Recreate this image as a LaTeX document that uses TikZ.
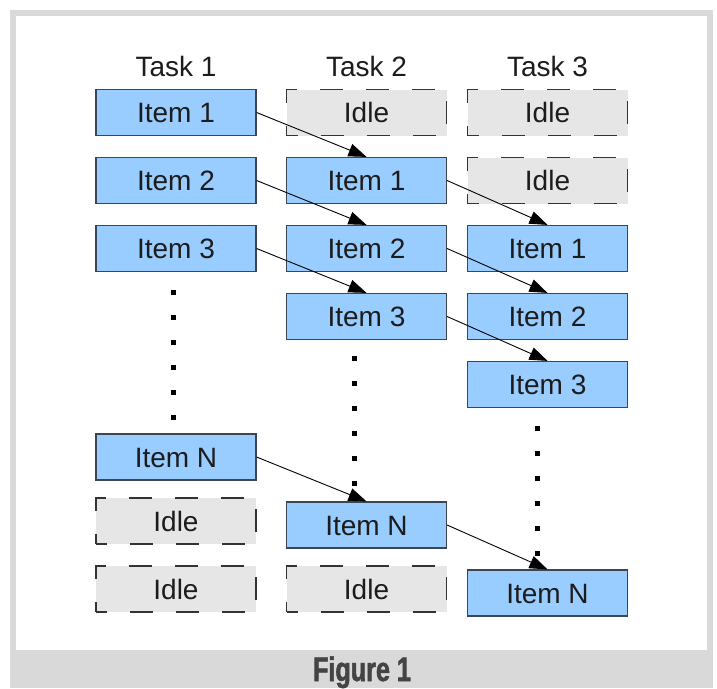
\documentclass[tikz,border=0pt]{standalone}
\usepackage{fontspec}
\setmainfont{Liberation Sans}
\newfontfamily\capfont[FakeStretch=0.74,FakeBold=1.6]{Liberation Sans Bold}
\usetikzlibrary{arrows.meta}

\definecolor{framegray}{HTML}{D9D9D9}
\definecolor{itemblue}{HTML}{99CCFF}
\definecolor{itemedge}{HTML}{3B4654}
\definecolor{idlefill}{HTML}{E6E6E6}
\definecolor{idleedge}{HTML}{333333}
\definecolor{inktext}{HTML}{1C1C1C}
\definecolor{captext}{HTML}{444444}

\tikzset{
  itembox/.style={draw=itemedge, fill=itemblue, line width=1.2pt,
    minimum width=160pt, minimum height=46pt, inner sep=0pt,
    text=inktext, font=\fontsize{28}{31}\selectfont,
    text height=20pt, text depth=0pt},
  idlebox/.style={itembox, draw=idleedge, fill=idlefill,
    dash pattern=on 23pt off 23pt, dash phase=12pt},
  tasklabel/.style={text=inktext, font=\fontsize{28}{31}\selectfont,
    inner sep=0pt, anchor=base},
  flow/.style={draw=black, line width=0.9pt,
    -{Triangle[length=18pt,width=13pt]}},
  dotmark/.style={fill=black},
}

\begin{document}
\begin{tikzpicture}[x=1pt,y=-1pt]
  \useasboundingbox (0,0) rectangle (717,688);

  % frame and caption band
  \fill[framegray] (10,10) rectangle (713,688);
  \fill[white] (16,16) rectangle (707,650);

  % column headings
  \node[tasklabel] (t1) at (176,76)   {Task 1};
  \node[tasklabel] (t2) at (366.5,76) {Task 2};
  \node[tasklabel] (t3) at (547.5,76) {Task 3};

  % task 1
  \node[itembox] (a1)  at (176,112.5) {Item 1};
  \node[itembox] (a2)  at (176,180.5) {Item 2};
  \node[itembox] (a3)  at (176,248.5) {Item 3};
  \node[itembox] (aN)  at (176,457)   {Item N};
  \node[idlebox] (aI1) at (176,521)   {Idle};
  \node[idlebox] (aI2) at (176,589)   {Idle};

  % task 2
  \node[idlebox] (b0) at (366.5,112.5) {Idle};
  \node[itembox] (b1) at (366.5,180.5) {Item 1};
  \node[itembox] (b2) at (366.5,248.5) {Item 2};
  \node[itembox] (b3) at (366.5,316.5) {Item 3};
  \node[itembox] (bN) at (366.5,525)   {Item N};
  \node[idlebox] (bI) at (366.5,589)   {Idle};

  % task 3
  \node[idlebox] (c0)  at (547.5,112.5) {Idle};
  \node[idlebox] (c0b) at (547.5,180.5) {Idle};
  \node[itembox] (c1)  at (547.5,248.5) {Item 1};
  \node[itembox] (c2)  at (547.5,316.5) {Item 2};
  \node[itembox] (c3)  at (547.5,384.5) {Item 3};
  \node[itembox] (cN)  at (547.5,593)   {Item N};

  % ellipsis dots
  \foreach \k in {0,...,5} {
    \fill[dotmark] (171,290+25*\k) rectangle ++(4.5,4.5);
    \fill[dotmark] (352,356+25*\k) rectangle ++(4.5,4.5);
    \fill[dotmark] (535,426+25*\k) rectangle ++(4.5,4.5);
  }

  % hand-over arrows
  \draw[flow] (a1.east) -- (b1.north);
  \draw[flow] (a2.east) -- (b2.north);
  \draw[flow] (a3.east) -- (b3.north);
  \draw[flow] (aN.east) -- (bN.north);
  \draw[flow] (b1.east) -- (c1.north);
  \draw[flow] (b2.east) -- (c2.north);
  \draw[flow] (b3.east) -- (c3.north);
  \draw[flow] (bN.east) -- (cN.north);

  % caption
  \node[text=captext, inner sep=0pt, anchor=base,
        font=\capfont\fontsize{34}{38}\selectfont] (cap) at (362,681)
        {Figure 1};
\end{tikzpicture}
\end{document}
